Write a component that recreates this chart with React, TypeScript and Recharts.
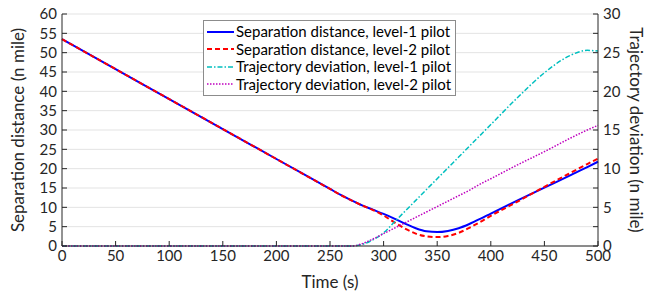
import {
  ComposedChart,
  Line,
  XAxis,
  YAxis,
  CartesianGrid,
  Legend,
  Label,
} from "recharts";

const times = [0, 50, 100, 150, 200, 250, 260, 270, 280, 290, 300, 310, 320, 330, 340, 350, 360, 370, 380, 390, 400, 425, 450, 475, 490, 500];
const sepLevel1 = [53.5, 45.75, 38.0, 30.25, 22.5, 14.75, 13.2, 11.8, 10.5, 9.4, 8.3, 7.1, 5.8, 4.6, 3.8, 3.6, 3.9, 4.6, 5.7, 7.0, 8.4, 11.8, 15.1, 18.4, 20.4, 21.8];
const sepLevel2 = [53.5, 45.75, 38.0, 30.25, 22.5, 14.75, 13.2, 11.8, 10.5, 9.3, 7.9, 6.1, 4.5, 3.2, 2.5, 2.3, 2.6, 3.4, 4.7, 6.2, 7.8, 11.5, 15.3, 19.0, 21.2, 22.6];
const devLevel1 = [0, 0, 0, 0, 0, 0, 0, 0, 0.2, 0.8, 1.7, 3.1, 4.5, 5.9, 7.3, 8.7, 10.1, 11.5, 12.9, 14.3, 15.7, 19.2, 22.4, 24.7, 25.3, 25.2];
const devLevel2 = [0, 0, 0, 0, 0, 0, 0, 0, 0.3, 0.9, 1.6, 2.3, 3.0, 3.7, 4.4, 5.1, 5.8, 6.5, 7.2, 8.0, 8.7, 10.5, 12.2, 14.0, 15.0, 15.6];

const timeTicks = [0, 50, 100, 150, 200, 250, 300, 350, 400, 450, 500];
const sepTicks = [0, 5, 10, 15, 20, 25, 30, 35, 40, 45, 50, 55, 60];
const devTicks = [0, 2.5, 5, 7.5, 10, 12.5, 15, 17.5, 20, 22.5, 25, 27.5, 30];

const seriesNames = [
  "Separation distance, level-1 pilot",
  "Separation distance, level-2 pilot",
  "Trajectory deviation, level-1 pilot",
  "Trajectory deviation, level-2 pilot",
];

const data = times.map((t, i) => ({
  time: t,
  sep1: sepLevel1[i],
  sep2: sepLevel2[i],
  dev1: devLevel1[i],
  dev2: devLevel2[i],
}));

const FONT = "Lato, 'Open Sans', sans-serif";
const AXIS = "#262626";
const tickStyle = { fontSize: 15, fill: AXIS, fontFamily: FONT };

const legendStyles = [
  { color: "#0000ff", dash: "", width: 2 },
  { color: "#ff0000", dash: "5 3", width: 2 },
  { color: "#00bfbf", dash: "5 2 1.5 2", width: 1.5 },
  { color: "#bf00bf", dash: "1.5 1.5", width: 1.5 },
];

function renderLegend() {
  return (
    <div
      style={{
        border: "1px solid #8c8c8c",
        background: "#fff",
        padding: "2px 4px 2px 3px",
        fontFamily: FONT,
        fontSize: 15,
        color: "#000",
        lineHeight: "17.5px",
        whiteSpace: "nowrap",
      }}
    >
      {seriesNames.map((name, i) => (
        <div key={name} style={{ display: "flex", alignItems: "center" }}>
          <svg width={27} height={10} style={{ marginRight: 2 }}>
            <line
              x1={0}
              y1={5}
              x2={27}
              y2={5}
              stroke={legendStyles[i].color}
              strokeWidth={legendStyles[i].width}
              strokeDasharray={legendStyles[i].dash}
            />
          </svg>
          <span>{name}</span>
        </div>
      ))}
    </div>
  );
}

export default function App() {
  return (
    <div style={{ position: "absolute", left: 0, top: 0, background: "#fff" }}>
      <ComposedChart width={648} height={295} data={data} margin={{ top: 14, right: 0, left: 0, bottom: 0 }}>
        <CartesianGrid yAxisId="left" xAxisId="bottom" vertical={false} stroke="#e3e3e3" strokeWidth={1} />
        <XAxis
          xAxisId="bottom"
          dataKey="time"
          type="number"
          domain={[0, 500]}
          ticks={timeTicks}
          height={49}
          tick={tickStyle}
          tickSize={-5}
          tickMargin={9}
          tickLine={{ stroke: AXIS }}
          axisLine={{ stroke: AXIS }}
        >
          <Label
            content={() => (
              <text x={330} y={288} textAnchor="middle" fontSize={17} fill={AXIS} fontFamily={FONT}>
                Time (s)
              </text>
            )}
          />
        </XAxis>
        <XAxis
          xAxisId="top"
          orientation="top"
          dataKey="time"
          type="number"
          domain={[0, 500]}
          ticks={timeTicks}
          height={0}
          tick={false}
          tickSize={-5}
          tickLine={{ stroke: AXIS }}
          axisLine={{ stroke: AXIS }}
        />
        <YAxis
          yAxisId="left"
          domain={[0, 60]}
          ticks={sepTicks}
          width={62}
          tick={tickStyle}
          tickSize={-5}
          tickMargin={10}
          tickLine={{ stroke: AXIS }}
          axisLine={{ stroke: AXIS }}
          interval={0}
        >
          <Label
            content={() => (
              <text
                x={17}
                y={130}
                transform="rotate(-90 17 130)"
                textAnchor="middle"
                dominantBaseline="central"
                fontSize={17}
                fill={AXIS}
                fontFamily={FONT}
              >
                Separation distance (n mile)
              </text>
            )}
          />
        </YAxis>
        <YAxis
          yAxisId="right"
          orientation="right"
          domain={[0, 30]}
          ticks={devTicks}
          width={50}
          tick={tickStyle}
          tickFormatter={(v) => (v % 5 === 0 ? String(v) : "")}
          tickSize={-5}
          tickMargin={10}
          tickLine={{ stroke: AXIS }}
          axisLine={{ stroke: AXIS }}
          interval={0}
        >
          <Label
            content={() => (
              <text
                x={636}
                y={130}
                transform="rotate(90 636 130)"
                textAnchor="middle"
                dominantBaseline="central"
                fontSize={17}
                fill={AXIS}
                fontFamily={FONT}
              >
                Trajectory deviation (n mile)
              </text>
            )}
          />
        </YAxis>
        <Legend
          content={renderLegend}
          layout="horizontal"
          align="center"
          verticalAlign="middle"
          wrapperStyle={{ position: "absolute", left: 203, top: 20, width: "auto" }}
        />
        <Line
          xAxisId="bottom"
          yAxisId="left"
          type="monotone"
          dataKey="sep1"
          stroke="#0000ff"
          strokeWidth={2}
          dot={false}
          isAnimationActive={false}
        />
        <Line
          xAxisId="bottom"
          yAxisId="left"
          type="monotone"
          dataKey="sep2"
          stroke="#ff0000"
          strokeWidth={2}
          strokeDasharray="5 3"
          dot={false}
          isAnimationActive={false}
        />
        <Line
          xAxisId="bottom"
          yAxisId="right"
          type="monotone"
          dataKey="dev1"
          stroke="#00bfbf"
          strokeWidth={1.5}
          strokeDasharray="5 2 1.5 2"
          dot={false}
          isAnimationActive={false}
        />
        <Line
          xAxisId="bottom"
          yAxisId="right"
          type="monotone"
          dataKey="dev2"
          stroke="#bf00bf"
          strokeWidth={1.5}
          strokeDasharray="1.5 1.5"
          dot={false}
          isAnimationActive={false}
        />
      </ComposedChart>
    </div>
  );
}
